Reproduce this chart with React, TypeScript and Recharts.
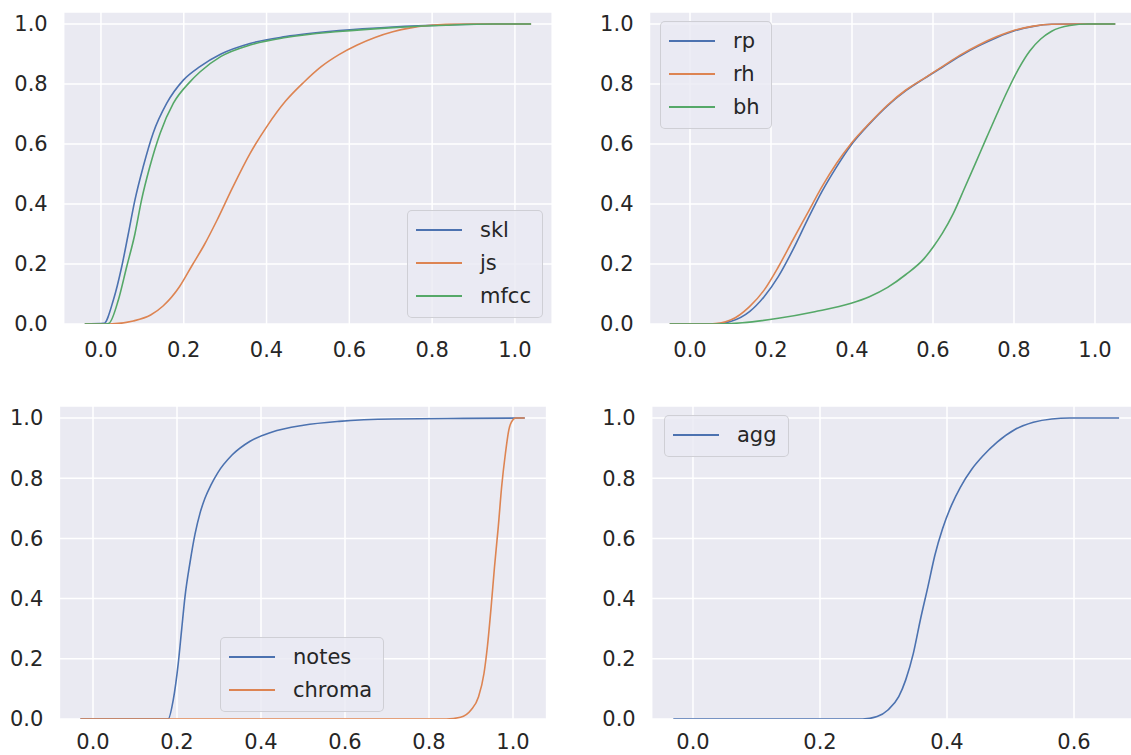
import { LineChart, Line, XAxis, YAxis, CartesianGrid, Legend } from 'recharts'

const FONT = '"DejaVu Sans", sans-serif'
const TEXT = '#262626'
const BG = '#EAEAF2'
const BLUE = '#4C72B0'
const ORANGE = '#DD8452'
const GREEN = '#55A868'

const yTicks = [0, 0.2, 0.4, 0.6, 0.8, 1.0]
const xTicksUnit = [0, 0.2, 0.4, 0.6, 0.8, 1.0]
const xTicksAgg = [0, 0.2, 0.4, 0.6]

// [x, cumulative fraction]
const skl = [
  [-0.039, 0], [0.007, 0.002], [0.03, 0.08], [0.05, 0.19], [0.066, 0.3], [0.082, 0.413],
  [0.102, 0.524], [0.126, 0.636], [0.159, 0.736], [0.199, 0.813], [0.239, 0.858],
  [0.29, 0.9], [0.36, 0.935], [0.446, 0.958], [0.575, 0.978], [0.705, 0.99],
  [0.834, 0.997], [0.95, 1.0], [1.039, 1.0],
]
const js = [
  [-0.039, 0], [0.02, 0], [0.078, 0.01], [0.12, 0.03], [0.15, 0.06], [0.19, 0.125],
  [0.22, 0.195], [0.25, 0.265], [0.28, 0.345], [0.317, 0.452], [0.36, 0.568], [0.403, 0.663],
  [0.446, 0.743], [0.49, 0.806], [0.532, 0.858], [0.575, 0.898], [0.619, 0.93],
  [0.662, 0.955], [0.705, 0.974], [0.748, 0.987], [0.79, 0.995], [0.834, 0.999],
  [0.9, 1.0], [1.039, 1.0],
]
const mfcc = [
  [-0.039, 0], [0.012, 0], [0.02, 0.003], [0.042, 0.08], [0.062, 0.19], [0.082, 0.3],
  [0.098, 0.413], [0.118, 0.524], [0.143, 0.636], [0.175, 0.736], [0.215, 0.807],
  [0.239, 0.84], [0.29, 0.892], [0.36, 0.93], [0.446, 0.955], [0.575, 0.975],
  [0.705, 0.988], [0.834, 0.996], [0.95, 1.0], [1.039, 1.0],
]

const rp = [
  [-0.05, 0], [0.06, 0], [0.1, 0.008], [0.147, 0.041], [0.183, 0.091], [0.218, 0.158],
  [0.254, 0.247], [0.29, 0.347], [0.326, 0.442], [0.362, 0.524], [0.398, 0.597],
  [0.443, 0.667], [0.488, 0.728], [0.533, 0.778], [0.578, 0.818], [0.623, 0.856],
  [0.668, 0.894], [0.713, 0.927], [0.758, 0.955], [0.803, 0.978], [0.848, 0.992],
  [0.893, 0.999], [0.95, 1.0], [1.05, 1.0],
]
const rh = [
  [-0.05, 0], [0.05, 0], [0.1, 0.013], [0.147, 0.058], [0.183, 0.113], [0.218, 0.19],
  [0.254, 0.28], [0.29, 0.369], [0.326, 0.458], [0.362, 0.536], [0.398, 0.602],
  [0.443, 0.669], [0.488, 0.73], [0.533, 0.78], [0.578, 0.819], [0.623, 0.858],
  [0.668, 0.897], [0.713, 0.93], [0.758, 0.958], [0.803, 0.98], [0.848, 0.993],
  [0.893, 0.999], [0.95, 1.0], [1.05, 1.0],
]
const bh = [
  [-0.05, 0], [0.06, 0], [0.129, 0.004], [0.218, 0.019], [0.308, 0.041], [0.398, 0.069],
  [0.443, 0.091], [0.488, 0.122], [0.533, 0.165], [0.578, 0.218], [0.6, 0.256],
  [0.623, 0.302], [0.65, 0.368], [0.677, 0.45], [0.704, 0.533], [0.731, 0.617],
  [0.758, 0.7], [0.785, 0.78], [0.812, 0.852], [0.839, 0.91], [0.866, 0.95],
  [0.893, 0.976], [0.938, 0.995], [0.983, 1.0], [1.05, 1.0],
]

const notes = [
  [-0.03, 0], [0.179, 0], [0.191, 0.063], [0.203, 0.185], [0.211, 0.296], [0.219, 0.406],
  [0.231, 0.52], [0.243, 0.615], [0.255, 0.685], [0.267, 0.735], [0.281, 0.778],
  [0.297, 0.818], [0.331, 0.877], [0.374, 0.923], [0.425, 0.953], [0.501, 0.976],
  [0.586, 0.989], [0.714, 0.997], [0.884, 0.999], [1.028, 1.0],
]
const chroma = [
  [-0.03, 0], [0.841, 0], [0.875, 0.006], [0.9, 0.03], [0.918, 0.074], [0.931, 0.152],
  [0.939, 0.24], [0.948, 0.373], [0.956, 0.506], [0.965, 0.639], [0.973, 0.772],
  [0.982, 0.883], [0.99, 0.96], [0.999, 0.993], [1.007, 1.0], [1.028, 1.0],
]

const agg = [
  [-0.031, 0], [0.267, 0], [0.29, 0.008], [0.307, 0.03], [0.324, 0.074], [0.335, 0.13],
  [0.347, 0.218], [0.358, 0.329], [0.37, 0.44], [0.381, 0.545], [0.393, 0.632],
  [0.407, 0.71], [0.421, 0.77], [0.439, 0.83], [0.456, 0.873], [0.479, 0.92],
  [0.507, 0.962], [0.536, 0.986], [0.565, 0.997], [0.593, 1.0], [0.671, 1.0],
]

type Series = { name: string; color: string; pairs: number[][] }

const toPoints = (pairs: number[][]) => pairs.map(([x, y]) => ({ x, y }))

const tickStyle = { fill: TEXT, fontSize: 21, fontFamily: FONT }

function LegendBox({ items }: { items: Series[] }) {
  return (
    <div
      style={{
        background: 'rgba(234,234,242,0.8)',
        border: '1px solid rgba(204,204,210,0.9)',
        borderRadius: 5,
        padding: '2px 11px 5px 8px',
        fontFamily: FONT,
        fontSize: 21,
        color: TEXT,
      }}
    >
      {items.map((it) => (
        <div key={it.name} style={{ display: 'flex', alignItems: 'center', height: 33 }}>
          <span
            style={{
              display: 'inline-block',
              width: 46,
              height: 2,
              background: it.color,
              marginRight: 18,
            }}
          />
          <span>{it.name}</span>
        </div>
      ))}
    </div>
  )
}

type PanelProps = {
  left: number
  top: number
  width: number
  height: number
  marginTop: number
  yAxisWidth: number
  xDomain: [number, number]
  xTicks: number[]
  xTickMargin: number
  series: Series[]
  legendPos: { left: number; top: number }
}

function Panel(p: PanelProps) {
  return (
    <div style={{ position: 'absolute', left: p.left, top: p.top }}>
      <LineChart
        width={p.width}
        height={p.height}
        margin={{ top: p.marginTop, right: 0, bottom: 0, left: 0 }}
      >
        <CartesianGrid fill={BG} stroke="#ffffff" strokeWidth={1.5} />
        <XAxis
          dataKey="x"
          type="number"
          domain={p.xDomain}
          ticks={p.xTicks}
          interval={0}
          allowDataOverflow
          height={40}
          axisLine={false}
          tickLine={false}
          tickSize={0}
          tickMargin={p.xTickMargin}
          tick={tickStyle}
          tickFormatter={(v: number) => v.toFixed(1)}
        />
        <YAxis
          type="number"
          domain={[0, 1.04]}
          ticks={yTicks}
          interval={0}
          allowDataOverflow
          width={p.yAxisWidth}
          axisLine={false}
          tickLine={false}
          tickSize={0}
          tickMargin={16}
          tick={tickStyle}
          tickFormatter={(v: number) => v.toFixed(1)}
        />
        {p.series.map((s) => (
          <Line
            key={s.name}
            data={toPoints(s.pairs)}
            dataKey="y"
            name={s.name}
            type="monotone"
            stroke={s.color}
            strokeWidth={1.6}
            dot={false}
            activeDot={false}
            isAnimationActive={false}
          />
        ))}
        <Legend
          layout="horizontal"
          verticalAlign="middle"
          align="center"
          wrapperStyle={{ left: p.legendPos.left, top: p.legendPos.top, width: 'auto' }}
          content={() => <LegendBox items={p.series} />}
        />
      </LineChart>
    </div>
  )
}

export default function App() {
  return (
    <div
      style={{
        position: 'absolute',
        left: 0,
        top: 0,
        width: 1131,
        height: 755,
        overflow: 'hidden',
        background: '#ffffff',
      }}
    >
      <Panel
        left={0}
        top={0}
        width={552.2}
        height={364}
        marginTop={12}
        yAxisWidth={63.7}
        xDomain={[-0.09, 1.09]}
        xTicks={xTicksUnit}
        xTickMargin={18}
        series={[
          { name: 'skl', color: BLUE, pairs: skl },
          { name: 'js', color: ORANGE, pairs: js },
          { name: 'mfcc', color: GREEN, pairs: mfcc },
        ]}
        legendPos={{ left: 407, top: 210 }}
      />
      <Panel
        left={580}
        top={0}
        width={557.5}
        height={364}
        marginTop={12}
        yAxisWidth={69.5}
        xDomain={[-0.1, 1.105]}
        xTicks={xTicksUnit}
        xTickMargin={18}
        series={[
          { name: 'rp', color: BLUE, pairs: rp },
          { name: 'rh', color: ORANGE, pairs: rh },
          { name: 'bh', color: GREEN, pairs: bh },
        ]}
        legendPos={{ left: 80, top: 21 }}
      />
      <Panel
        left={0}
        top={370}
        width={546.6}
        height={389}
        marginTop={36}
        yAxisWidth={59.4}
        xDomain={[-0.08, 1.08]}
        xTicks={xTicksUnit}
        xTickMargin={15}
        series={[
          { name: 'notes', color: BLUE, pairs: notes },
          { name: 'chroma', color: ORANGE, pairs: chroma },
        ]}
        legendPos={{ left: 220, top: 267 }}
      />
      <Panel
        left={580}
        top={370}
        width={560.7}
        height={389}
        marginTop={36}
        yAxisWidth={71.7}
        xDomain={[-0.065, 0.705]}
        xTicks={xTicksAgg}
        xTickMargin={15}
        series={[{ name: 'agg', color: BLUE, pairs: agg }]}
        legendPos={{ left: 84, top: 45 }}
      />
    </div>
  )
}
